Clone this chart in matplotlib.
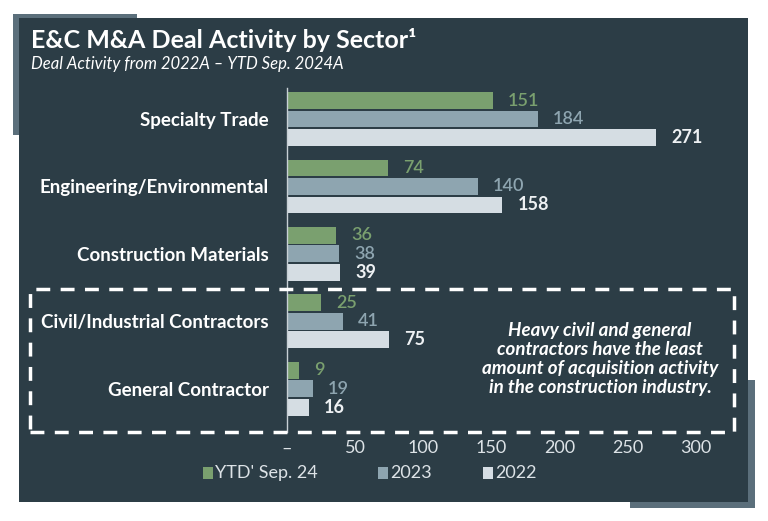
import numpy as np
import matplotlib.pyplot as plt
from matplotlib.patches import Rectangle

sectors = ['Specialty Trade', 'Engineering/Environmental', 'Construction Materials',
           'Civil/Industrial Contractors', 'General Contractor']
ytd_2024 = [151, 74, 36, 25, 9]
deals_2023 = [184, 140, 38, 41, 19]
deals_2022 = [271, 158, 39, 75, 16]
series_names = ["YTD' Sep. 24", '2023', '2022']
xticks = [0, 50, 100, 150, 200, 250, 300]
xtick_labels = ['–', '50', '100', '150', '200', '250', '300']

W, H = 768, 521
BG = '#2c3d46'
SHADOW = '#5b6f7b'
GREEN = '#7aa06f'
BLUE = '#8ea5b0'
LIGHT = '#d5dde3'
TXT = '#dde3e7'

plt.rcParams['font.family'] = ['Lato', 'DejaVu Sans']

fig = plt.figure(figsize=(W / 100, H / 100), dpi=100)
fig.patch.set_facecolor('white')


def box(x0, y0, x1, y1):
    # pixel box (top-left origin) -> figure fractions
    return [x0 / W, 1 - y1 / H, (x1 - x0) / W, (y1 - y0) / H]


for (x0, y0, x1, y1), c in [((13, 14, 137, 135), SHADOW),
                            ((630, 380, 755, 508), SHADOW),
                            ((19, 18, 748, 502), BG)]:
    b = box(x0, y0, x1, y1)
    fig.add_artist(Rectangle((b[0], b[1]), b[2], b[3], transform=fig.transFigure,
                             facecolor=c, edgecolor='none', zorder=0))

fig.text(31 / W, 1 - 40 / H, 'E&C M&A Deal Activity by Sector¹', color='white',
         fontsize=18, fontweight='bold', va='center', ha='left')
fig.text(31 / W, 1 - 64 / H, 'Deal Activity from 2022A – YTD Sep. 2024A', color='white',
         fontsize=12, style='italic', va='center', ha='left')

ax = fig.add_axes(box(287, 88, 696, 432))
ax.set_facecolor('none')
y = np.arange(len(sectors))
off = 0.274
h = 0.25
series = [(ytd_2024, GREEN, GREEN, -off, 'semibold'),
          (deals_2023, BLUE, BLUE, 0, 'semibold'),
          (deals_2022, LIGHT, '#eef1f3', off, 'bold')]
for vals, c, tc, dy, fw in series:
    ax.barh(y + dy, vals, height=h, color=c, edgecolor='none')
    for yi, v in zip(y, vals):
        ax.annotate(str(v), (v, yi + dy), xytext=(11, 0), textcoords='offset points',
                    va='center', ha='left', color=tc, fontsize=13, fontweight=fw)

ax.set_xlim(0, 300)
ax.set_ylim(len(sectors) - 1 + 0.64, -0.46)
ax.set_yticks(y)
ax.set_yticklabels(sectors, color='white', fontsize=13.5, fontweight='bold')
ax.set_xticks(xticks)
ax.set_xticklabels(xtick_labels, color=TXT, fontsize=13)
ax.tick_params(length=0)
ax.tick_params(axis='y', pad=13)
ax.tick_params(axis='x', pad=6)
for s in ['top', 'right', 'bottom']:
    ax.spines[s].set_visible(False)
ax.spines['left'].set_color('#c8d0d5')
ax.spines['left'].set_linewidth(1)

# dashed highlight box
b = box(30, 289, 734, 432)
fig.add_artist(Rectangle((b[0], b[1]), b[2], b[3], transform=fig.transFigure,
                         facecolor='none', edgecolor='white', linewidth=2.5,
                         linestyle=(0, (4, 3)), zorder=5))

fig.text(600 / W, 1 - 359 / H,
         'Heavy civil and general\ncontractors have the least\namount of acquisition activity\nin the construction industry.',
         color='white', fontsize=13.5, fontweight='bold', style='italic',
         ha='center', va='center', linespacing=1.15)

# legend
for (sx, tx), name, c in zip([(203, 215), (378, 390), (483, 495)], series_names,
                             [GREEN, BLUE, LIGHT]):
    b = box(sx, 467, sx + 10, 479)
    fig.add_artist(Rectangle((b[0], b[1]), b[2], b[3], transform=fig.transFigure,
                             facecolor=c, edgecolor='none'))
    fig.text(tx / W, 1 - 473 / H, name, color=TXT, fontsize=13, va='center', ha='left')

fig.savefig('out.png', dpi=100, facecolor=fig.get_facecolor())
